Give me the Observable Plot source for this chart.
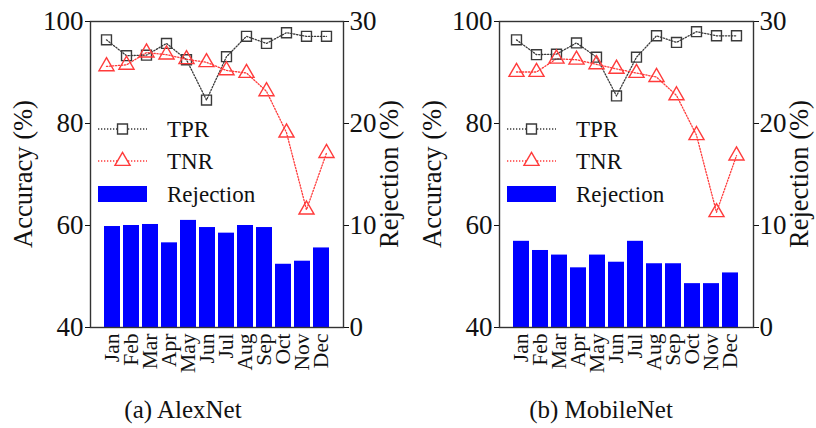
<!DOCTYPE html>
<html>
<head>
<meta charset="utf-8">
<script src="https://cdn.jsdelivr.net/npm/d3@7"></script>
<script src="https://cdn.jsdelivr.net/npm/@observablehq/plot@0.6"></script>
<style>
  html, body { margin: 0; padding: 0; background: #fff; }
  #wrap { position: relative; width: 816px; height: 428px; overflow: hidden; font-family: "Liberation Serif", "Times New Roman", serif; }
  .layer { position: absolute; top: 0; }
  .caption { position: absolute; font-size: 25px; color: #111; white-space: nowrap; transform: translateX(-50%); }
</style>
</head>
<body>
<div id="wrap"></div>
<script>
const months = ["Jan","Feb","Mar","Apr","May","Jun","Jul","Aug","Sep","Oct","Nov","Dec"];

// (a) AlexNet
const alexTPR = [96.4, 93.3, 93.4, 95.7, 92.5, 84.6, 93.1, 97.1, 95.7, 97.8, 97.1, 97.1];
const alexTNR = [91.2, 91.5, 93.9, 93.5, 92.6, 92.0, 90.4, 89.9, 86.3, 78.2, 63.1, 74.2];
const alexRej = [9.9, 10.0, 10.1, 8.3, 10.5, 9.8, 9.25, 10.0, 9.8, 6.2, 6.5, 7.8];

// (b) MobileNet
const mobTPR = [96.4, 93.5, 93.6, 95.8, 93.0, 85.4, 93.0, 97.2, 95.9, 98.0, 97.2, 97.2];
const mobTNR = [90.1, 90.1, 92.7, 92.5, 91.6, 90.7, 89.9, 89.1, 85.5, 77.7, 62.6, 73.7];
const mobRej = [8.45, 7.55, 7.1, 5.85, 7.1, 6.4, 8.45, 6.25, 6.25, 4.3, 4.3, 5.35];

const accTicks = [40, 60, 80, 100];
const rejTicks = [0, 10, 20, 30];
const captions = ["(a) AlexNet", "(b) MobileNet"];
const legendLabels = ["TPR", "TNR", "Rejection"];

const FONT = "Liberation Serif";
const TPR_COLOR = "#3a3a3a";
const TNR_COLOR = "#ff3b3b";
const BAR_COLOR = "#0000ff";
const H = 375, MT = 21, MB = 48;

function panel(left, width, ml, mr, tpr, tnr, rej, caption, capX) {
  const wrap = document.getElementById("wrap");
  const data = months.map((m, i) => ({month: m, tpr: tpr[i], tnr: tnr[i], rej: rej[i]}));
  const xCfg = {domain: months, padding: 0.18, insetLeft: 9, insetRight: 10, label: null, axis: null};
  const common = {width, height: H, marginLeft: ml, marginRight: mr, marginTop: MT, marginBottom: MB,
    style: {fontFamily: FONT, fontSize: "27px", color: "#111", background: "transparent", overflow: "visible"}};

  const bars = Plot.plot({
    ...common,
    x: xCfg,
    y: {domain: [0, 30], axis: null},
    marks: [
      Plot.barY(data, {x: "month", y: "rej", fill: BAR_COLOR}),
      Plot.axisY(rejTicks, {anchor: "right", tickSize: 5, tickPadding: 1, label: null, fontSize: 27}),
      Plot.axisX({anchor: "bottom", tickSize: 0, tickPadding: 6, tickRotate: -90, label: null, fontSize: 21.5})
    ]
  });
  const lines = Plot.plot({
    ...common,
    x: xCfg,
    y: {domain: [40, 100], axis: null},
    marks: [
      Plot.frame({stroke: "#333", strokeWidth: 1.4}),
      Plot.line(data, {x: "month", y: "tpr", stroke: TPR_COLOR, strokeWidth: 1.3, strokeDasharray: "1.3,1.7"}),
      Plot.line(data, {x: "month", y: "tnr", stroke: TNR_COLOR, strokeWidth: 1.3, strokeDasharray: "1.3,1.7"}),
      Plot.dot(data, {x: "month", y: "tpr", symbol: "square", r: 5.6, stroke: TPR_COLOR, strokeWidth: 1.4, fill: "none"}),
      Plot.dot(data, {x: "month", y: "tnr", symbol: "triangle", r: 5.6, stroke: TNR_COLOR, strokeWidth: 1.4, fill: "none"}),
      Plot.axisY(accTicks, {anchor: "left", tickSize: 5, tickPadding: 2, label: null, fontSize: 27})
    ]
  });
  for (const s of [bars, lines]) {
    s.classList.add("layer");
    s.style.left = left + "px";
    wrap.appendChild(s);
  }

  // axis titles and legend overlay
  const ov = d3.select(wrap).append("svg").attr("class", "layer")
    .attr("width", width).attr("height", H).style("left", left + "px")
    .style("font-family", FONT).style("overflow", "visible");
  const midY = MT + (H - MT - MB) / 2;
  ov.append("text").attr("transform", `translate(${ml - 64},${midY}) rotate(-90)`)
    .attr("text-anchor", "middle").attr("dominant-baseline", "middle")
    .attr("font-size", 26.5).attr("fill", "#111").text("Accuracy (%)");
  ov.append("text").attr("transform", `translate(${width - mr + 49},${midY}) rotate(-90)`)
    .attr("text-anchor", "middle").attr("dominant-baseline", "middle")
    .attr("font-size", 26.5).attr("fill", "#111").text("Rejection (%)");

  const lx0 = ml + 8, lx1 = ml + 57, tx = ml + 77;
  const lg = ov.append("g");
  // TPR
  lg.append("line").attr("x1", lx0).attr("x2", lx1).attr("y1", 129).attr("y2", 129)
    .attr("stroke", TPR_COLOR).attr("stroke-width", 1.3).attr("stroke-dasharray", "1.3,1.7");
  lg.append("path").attr("d", d3.symbol(d3.symbolSquare, Math.PI * 5.6 * 5.6)())
    .attr("transform", `translate(${(lx0 + lx1) / 2},129)`).attr("fill", "#fff")
    .attr("stroke", TPR_COLOR).attr("stroke-width", 1.4);
  lg.append("text").attr("x", tx).attr("y", 137).attr("font-size", 23).attr("fill", "#111").text(legendLabels[0]);
  // TNR
  lg.append("line").attr("x1", lx0).attr("x2", lx1).attr("y1", 161).attr("y2", 161)
    .attr("stroke", TNR_COLOR).attr("stroke-width", 1.3).attr("stroke-dasharray", "1.3,1.7");
  lg.append("path").attr("d", d3.symbol(d3.symbolTriangle, Math.PI * 5.6 * 5.6)())
    .attr("transform", `translate(${(lx0 + lx1) / 2},161)`).attr("fill", "#fff")
    .attr("stroke", TNR_COLOR).attr("stroke-width", 1.4);
  lg.append("text").attr("x", tx).attr("y", 169).attr("font-size", 23).attr("fill", "#111").text(legendLabels[1]);
  // Rejection
  lg.append("rect").attr("x", lx0).attr("y", 186).attr("width", lx1 - lx0).attr("height", 16).attr("fill", BAR_COLOR);
  lg.append("text").attr("x", tx).attr("y", 202).attr("font-size", 23).attr("fill", "#111").text(legendLabels[2]);

  const cap = document.createElement("div");
  cap.className = "caption";
  cap.style.left = capX + "px";
  cap.style.top = "396px";
  cap.textContent = caption;
  wrap.appendChild(cap);
}

panel(0, 408, 90, 65, alexTPR, alexTNR, alexRej, captions[0], 183);
panel(408, 408, 91, 63, mobTPR, mobTNR, mobRej, captions[1], 601);
</script>
</body>
</html>
